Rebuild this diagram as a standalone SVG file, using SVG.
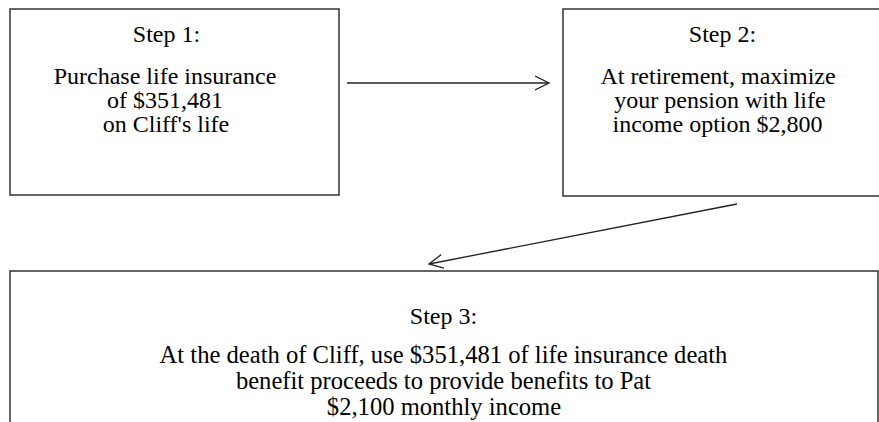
<svg xmlns="http://www.w3.org/2000/svg" width="879" height="422" viewBox="0 0 879 422">
<style>
.box{fill:#fff;stroke:#333;stroke-width:1.5}
.t{font-family:"Liberation Serif","Times New Roman",serif;font-size:24px;fill:#000;text-anchor:middle}
.t3{font-size:24.6px}
.c{fill:none;stroke:#222;stroke-width:1.3}
</style>
<defs>
<marker id="open" viewBox="0 0 16 16" refX="14" refY="8" markerWidth="16" markerHeight="16" markerUnits="userSpaceOnUse" orient="auto">
<path d="M0,1 L14,8 L0,15" fill="none" stroke="#222" stroke-width="1.3"/>
</marker>
</defs>
<rect width="879" height="422" fill="#fff"/>
<g id="step1">
<rect class="box" x="10" y="9" width="329" height="186"/>
<text class="t" x="166.5" y="42">Step 1:</text>
<text class="t" x="165" y="84">Purchase life insurance</text>
<text class="t" x="165" y="108">of $351,481</text>
<text class="t" x="166" y="132">on Cliff's life</text>
</g>
<g id="step2">
<rect class="box" x="563" y="9" width="330" height="187"/>
<text class="t" x="722.5" y="42">Step 2:</text>
<text class="t" x="718" y="84">At retirement, maximize</text>
<text class="t" x="720" y="108">your pension with life</text>
<text class="t" x="717.5" y="132">income option $2,800</text>
</g>
<g id="step3">
<rect class="box" x="10" y="271" width="868" height="170"/>
<text class="t" x="443.5" y="324">Step 3:</text>
<text class="t t3" x="443.5" y="363">At the death of Cliff, use $351,481 of life insurance death</text>
<text class="t t3" x="443.5" y="389">benefit proceeds to provide benefits to Pat</text>
<text class="t t3" x="444" y="415">$2,100 monthly income</text>
</g>
<g id="connectors">
<line class="c" x1="347" y1="83" x2="549" y2="83" marker-end="url(#open)"/>
<line class="c" x1="737" y1="204" x2="429" y2="264" marker-end="url(#open)"/>
</g>
</svg>
